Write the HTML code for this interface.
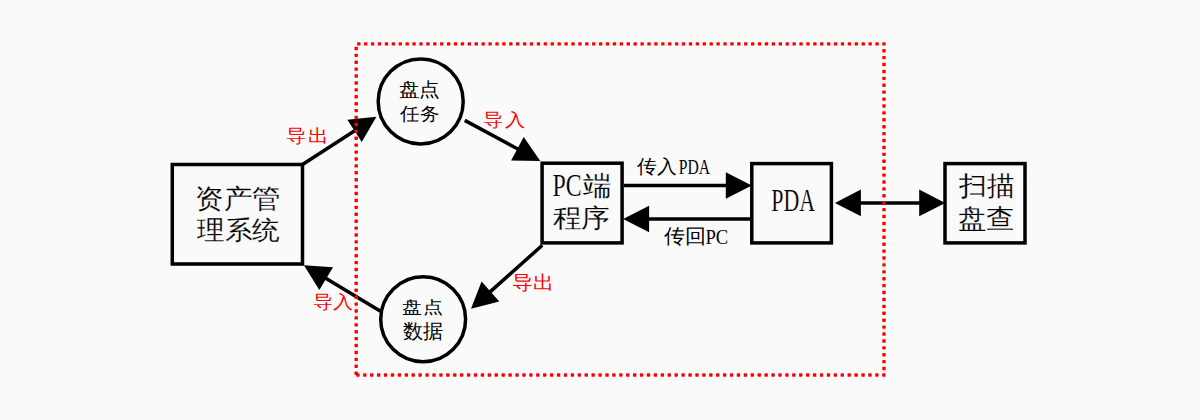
<!DOCTYPE html>
<html><head><meta charset="utf-8"><style>
html,body{margin:0;padding:0;background:#fafafa;width:1200px;height:420px;overflow:hidden}
svg{display:block}
text{font-family:"Liberation Serif",serif}
</style></head><body>
<svg width="1200" height="420" viewBox="0 0 1200 420">
<rect width="1200" height="420" fill="#fafafa"/>
<rect x="172.30" y="164.50" width="130.20" height="99.50" fill="none" stroke="#000" stroke-width="3.5"/>
<circle cx="420.70" cy="101.40" r="42.50" fill="none" stroke="#000" stroke-width="3.5"/>
<circle cx="423.15" cy="319.20" r="42.45" fill="none" stroke="#000" stroke-width="3.5"/>
<rect x="542.10" y="163.20" width="80.00" height="79.70" fill="none" stroke="#000" stroke-width="3.5"/>
<rect x="751.80" y="163.60" width="79.60" height="79.30" fill="none" stroke="#000" stroke-width="3.5"/>
<rect x="945.00" y="163.60" width="80.00" height="79.30" fill="none" stroke="#000" stroke-width="3.5"/>
<line x1="302.50" y1="164.50" x2="356.25" y2="129.73" stroke="#000" stroke-width="3.5"/><polygon points="376.40,116.70 361.79,141.99 347.35,119.65" fill="#000"/>
<line x1="464.75" y1="120.35" x2="519.18" y2="149.71" stroke="#000" stroke-width="3.5"/><polygon points="540.30,161.10 511.10,160.46 523.73,137.05" fill="#000"/>
<line x1="542.30" y1="245.30" x2="488.92" y2="292.84" stroke="#000" stroke-width="3.5"/><polygon points="471.00,308.80 481.57,281.58 499.26,301.44" fill="#000"/>
<line x1="380.50" y1="311.20" x2="324.48" y2="277.56" stroke="#000" stroke-width="3.5"/><polygon points="303.90,265.20 333.04,267.18 319.34,289.99" fill="#000"/>
<line x1="624.00" y1="185.50" x2="727.80" y2="185.50" stroke="#000" stroke-width="3.5"/><polygon points="751.80,185.50 725.80,198.80 725.80,172.20" fill="#000"/>
<line x1="750.00" y1="219.00" x2="647.10" y2="219.00" stroke="#000" stroke-width="3.5"/><polygon points="623.10,219.00 649.10,205.70 649.10,232.30" fill="#000"/>
<line x1="858.90" y1="202.9" x2="921.20" y2="202.9" stroke="#000" stroke-width="3.5"/><polygon points="834.90,202.90 860.90,189.60 860.90,216.20" fill="#000"/><polygon points="945.20,202.90 919.20,216.20 919.20,189.60" fill="#000"/>
<text transform="matrix(0.28328 0 0 0.26907 194.917 180.595)" x="0" y="100" font-size="100" fill="#000" stroke="#fafafa" stroke-width="0.6">资产管</text>
<text transform="matrix(0.27383 0 0 0.25773 196.700 213.376)" x="0" y="100" font-size="100" fill="#000" stroke="#fafafa" stroke-width="0.6">理系统</text>
<text transform="matrix(0.20262 0 0 0.18586 399.290 77.240)" x="0" y="100" font-size="100" fill="#000">盘点</text>
<text transform="matrix(0.19846 0 0 0.18298 400.100 101.323)" x="0" y="100" font-size="100" fill="#000">任务</text>
<text transform="matrix(0.20576 0 0 0.17475 402.277 295.929)" x="0" y="100" font-size="100" fill="#000">盘点</text>
<text transform="matrix(0.19949 0 0 0.19787 403.401 318.543)" x="0" y="100" font-size="100" fill="#000">数据</text>
<text transform="matrix(0.23772 0 0 0.30746 552.587 165.339)" x="0" y="100" font-size="100" fill="#000" stroke="#fafafa" stroke-width="0.6">PC</text>
<text transform="matrix(0.27979 0 0 0.26596 582.520 168.913)" x="0" y="100" font-size="100" fill="#000" stroke="#fafafa" stroke-width="0.6">端</text>
<text transform="matrix(0.28410 0 0 0.25773 552.716 201.076)" x="0" y="100" font-size="100" fill="#000" stroke="#fafafa" stroke-width="0.6">程序</text>
<text transform="matrix(0.21888 0 0 0.30606 771.243 180.094)" x="0" y="100" font-size="100" fill="#000" stroke="#fafafa" stroke-width="0.6">PDA</text>
<text transform="matrix(0.28093 0 0 0.27263 958.900 167.820)" x="0" y="100" font-size="100" fill="#000" stroke="#fafafa" stroke-width="0.6">扫描</text>
<text transform="matrix(0.28684 0 0 0.27204 957.753 200.803)" x="0" y="100" font-size="100" fill="#000" stroke="#fafafa" stroke-width="0.6">盘查</text>
<text transform="matrix(0.20950 0 0 0.18454 286.453 123.778)" x="0" y="100" font-size="100" fill="#ff0000">导出</text>
<text transform="matrix(0.20681 0 0 0.18367 483.466 107.878)" x="0" y="100" font-size="100" fill="#ff0000">导入</text>
<text transform="matrix(0.20950 0 0 0.18969 512.253 269.886)" x="0" y="100" font-size="100" fill="#ff0000">导出</text>
<text transform="matrix(0.20471 0 0 0.18265 313.176 289.795)" x="0" y="100" font-size="100" fill="#ff0000">导入</text>
<text transform="matrix(0.20255 0 0 0.19388 637.000 153.404)" x="0" y="100" font-size="100" fill="#000">传入</text>
<text transform="matrix(0.15663 0 0 0.21212 678.830 152.488)" x="0" y="100" font-size="100" fill="#000">PDA</text>
<text transform="matrix(0.20745 0 0 0.19684 664.300 223.063)" x="0" y="100" font-size="100" fill="#000">传回</text>
<text transform="matrix(0.18684 0 0 0.21343 705.439 222.230)" x="0" y="100" font-size="100" fill="#000">PC</text>
<g fill="#ff0000"><rect x="357.10" y="42.20" width="3.40" height="3.40" rx="0.70"/><rect x="364.01" y="42.20" width="3.40" height="3.40" rx="0.70"/><rect x="370.92" y="42.20" width="3.40" height="3.40" rx="0.70"/><rect x="377.83" y="42.20" width="3.40" height="3.40" rx="0.70"/><rect x="384.74" y="42.20" width="3.40" height="3.40" rx="0.70"/><rect x="391.65" y="42.20" width="3.40" height="3.40" rx="0.70"/><rect x="398.56" y="42.20" width="3.40" height="3.40" rx="0.70"/><rect x="405.47" y="42.20" width="3.40" height="3.40" rx="0.70"/><rect x="412.38" y="42.20" width="3.40" height="3.40" rx="0.70"/><rect x="419.29" y="42.20" width="3.40" height="3.40" rx="0.70"/><rect x="426.20" y="42.20" width="3.40" height="3.40" rx="0.70"/><rect x="433.11" y="42.20" width="3.40" height="3.40" rx="0.70"/><rect x="440.02" y="42.20" width="3.40" height="3.40" rx="0.70"/><rect x="446.93" y="42.20" width="3.40" height="3.40" rx="0.70"/><rect x="453.84" y="42.20" width="3.40" height="3.40" rx="0.70"/><rect x="460.75" y="42.20" width="3.40" height="3.40" rx="0.70"/><rect x="467.66" y="42.20" width="3.40" height="3.40" rx="0.70"/><rect x="474.57" y="42.20" width="3.40" height="3.40" rx="0.70"/><rect x="481.48" y="42.20" width="3.40" height="3.40" rx="0.70"/><rect x="488.39" y="42.20" width="3.40" height="3.40" rx="0.70"/><rect x="495.30" y="42.20" width="3.40" height="3.40" rx="0.70"/><rect x="502.21" y="42.20" width="3.40" height="3.40" rx="0.70"/><rect x="509.12" y="42.20" width="3.40" height="3.40" rx="0.70"/><rect x="516.03" y="42.20" width="3.40" height="3.40" rx="0.70"/><rect x="522.94" y="42.20" width="3.40" height="3.40" rx="0.70"/><rect x="529.85" y="42.20" width="3.40" height="3.40" rx="0.70"/><rect x="536.76" y="42.20" width="3.40" height="3.40" rx="0.70"/><rect x="543.67" y="42.20" width="3.40" height="3.40" rx="0.70"/><rect x="550.58" y="42.20" width="3.40" height="3.40" rx="0.70"/><rect x="557.49" y="42.20" width="3.40" height="3.40" rx="0.70"/><rect x="564.40" y="42.20" width="3.40" height="3.40" rx="0.70"/><rect x="571.31" y="42.20" width="3.40" height="3.40" rx="0.70"/><rect x="578.22" y="42.20" width="3.40" height="3.40" rx="0.70"/><rect x="585.13" y="42.20" width="3.40" height="3.40" rx="0.70"/><rect x="592.04" y="42.20" width="3.40" height="3.40" rx="0.70"/><rect x="598.95" y="42.20" width="3.40" height="3.40" rx="0.70"/><rect x="605.86" y="42.20" width="3.40" height="3.40" rx="0.70"/><rect x="612.77" y="42.20" width="3.40" height="3.40" rx="0.70"/><rect x="619.68" y="42.20" width="3.40" height="3.40" rx="0.70"/><rect x="626.59" y="42.20" width="3.40" height="3.40" rx="0.70"/><rect x="633.50" y="42.20" width="3.40" height="3.40" rx="0.70"/><rect x="640.41" y="42.20" width="3.40" height="3.40" rx="0.70"/><rect x="647.32" y="42.20" width="3.40" height="3.40" rx="0.70"/><rect x="654.23" y="42.20" width="3.40" height="3.40" rx="0.70"/><rect x="661.14" y="42.20" width="3.40" height="3.40" rx="0.70"/><rect x="668.05" y="42.20" width="3.40" height="3.40" rx="0.70"/><rect x="674.96" y="42.20" width="3.40" height="3.40" rx="0.70"/><rect x="681.87" y="42.20" width="3.40" height="3.40" rx="0.70"/><rect x="688.78" y="42.20" width="3.40" height="3.40" rx="0.70"/><rect x="695.69" y="42.20" width="3.40" height="3.40" rx="0.70"/><rect x="702.60" y="42.20" width="3.40" height="3.40" rx="0.70"/><rect x="709.51" y="42.20" width="3.40" height="3.40" rx="0.70"/><rect x="716.42" y="42.20" width="3.40" height="3.40" rx="0.70"/><rect x="723.33" y="42.20" width="3.40" height="3.40" rx="0.70"/><rect x="730.24" y="42.20" width="3.40" height="3.40" rx="0.70"/><rect x="737.15" y="42.20" width="3.40" height="3.40" rx="0.70"/><rect x="744.06" y="42.20" width="3.40" height="3.40" rx="0.70"/><rect x="750.97" y="42.20" width="3.40" height="3.40" rx="0.70"/><rect x="757.88" y="42.20" width="3.40" height="3.40" rx="0.70"/><rect x="764.79" y="42.20" width="3.40" height="3.40" rx="0.70"/><rect x="771.70" y="42.20" width="3.40" height="3.40" rx="0.70"/><rect x="778.61" y="42.20" width="3.40" height="3.40" rx="0.70"/><rect x="785.52" y="42.20" width="3.40" height="3.40" rx="0.70"/><rect x="792.43" y="42.20" width="3.40" height="3.40" rx="0.70"/><rect x="799.34" y="42.20" width="3.40" height="3.40" rx="0.70"/><rect x="806.25" y="42.20" width="3.40" height="3.40" rx="0.70"/><rect x="813.16" y="42.20" width="3.40" height="3.40" rx="0.70"/><rect x="820.07" y="42.20" width="3.40" height="3.40" rx="0.70"/><rect x="826.98" y="42.20" width="3.40" height="3.40" rx="0.70"/><rect x="833.89" y="42.20" width="3.40" height="3.40" rx="0.70"/><rect x="840.80" y="42.20" width="3.40" height="3.40" rx="0.70"/><rect x="847.71" y="42.20" width="3.40" height="3.40" rx="0.70"/><rect x="854.62" y="42.20" width="3.40" height="3.40" rx="0.70"/><rect x="861.53" y="42.20" width="3.40" height="3.40" rx="0.70"/><rect x="868.44" y="42.20" width="3.40" height="3.40" rx="0.70"/><rect x="875.35" y="42.20" width="3.40" height="3.40" rx="0.70"/><rect x="882.26" y="42.20" width="3.40" height="3.40" rx="0.70"/><rect x="882.30" y="49.01" width="3.40" height="3.40" rx="0.70"/><rect x="882.30" y="55.92" width="3.40" height="3.40" rx="0.70"/><rect x="882.30" y="62.83" width="3.40" height="3.40" rx="0.70"/><rect x="882.30" y="69.74" width="3.40" height="3.40" rx="0.70"/><rect x="882.30" y="76.65" width="3.40" height="3.40" rx="0.70"/><rect x="882.30" y="83.56" width="3.40" height="3.40" rx="0.70"/><rect x="882.30" y="90.47" width="3.40" height="3.40" rx="0.70"/><rect x="882.30" y="97.38" width="3.40" height="3.40" rx="0.70"/><rect x="882.30" y="104.29" width="3.40" height="3.40" rx="0.70"/><rect x="882.30" y="111.20" width="3.40" height="3.40" rx="0.70"/><rect x="882.30" y="118.11" width="3.40" height="3.40" rx="0.70"/><rect x="882.30" y="125.02" width="3.40" height="3.40" rx="0.70"/><rect x="882.30" y="131.93" width="3.40" height="3.40" rx="0.70"/><rect x="882.30" y="138.84" width="3.40" height="3.40" rx="0.70"/><rect x="882.30" y="145.75" width="3.40" height="3.40" rx="0.70"/><rect x="882.30" y="152.66" width="3.40" height="3.40" rx="0.70"/><rect x="882.30" y="159.57" width="3.40" height="3.40" rx="0.70"/><rect x="882.30" y="166.48" width="3.40" height="3.40" rx="0.70"/><rect x="882.30" y="173.39" width="3.40" height="3.40" rx="0.70"/><rect x="882.30" y="180.30" width="3.40" height="3.40" rx="0.70"/><rect x="882.30" y="187.21" width="3.40" height="3.40" rx="0.70"/><rect x="882.30" y="194.12" width="3.40" height="3.40" rx="0.70"/><rect x="882.30" y="201.03" width="3.40" height="3.40" rx="0.70"/><rect x="882.30" y="207.94" width="3.40" height="3.40" rx="0.70"/><rect x="882.30" y="214.85" width="3.40" height="3.40" rx="0.70"/><rect x="882.30" y="221.76" width="3.40" height="3.40" rx="0.70"/><rect x="882.30" y="228.67" width="3.40" height="3.40" rx="0.70"/><rect x="882.30" y="235.58" width="3.40" height="3.40" rx="0.70"/><rect x="882.30" y="242.49" width="3.40" height="3.40" rx="0.70"/><rect x="882.30" y="249.40" width="3.40" height="3.40" rx="0.70"/><rect x="882.30" y="256.31" width="3.40" height="3.40" rx="0.70"/><rect x="882.30" y="263.22" width="3.40" height="3.40" rx="0.70"/><rect x="882.30" y="270.13" width="3.40" height="3.40" rx="0.70"/><rect x="882.30" y="277.04" width="3.40" height="3.40" rx="0.70"/><rect x="882.30" y="283.95" width="3.40" height="3.40" rx="0.70"/><rect x="882.30" y="290.86" width="3.40" height="3.40" rx="0.70"/><rect x="882.30" y="297.77" width="3.40" height="3.40" rx="0.70"/><rect x="882.30" y="304.68" width="3.40" height="3.40" rx="0.70"/><rect x="882.30" y="311.59" width="3.40" height="3.40" rx="0.70"/><rect x="882.30" y="318.50" width="3.40" height="3.40" rx="0.70"/><rect x="882.30" y="325.41" width="3.40" height="3.40" rx="0.70"/><rect x="882.30" y="332.32" width="3.40" height="3.40" rx="0.70"/><rect x="882.30" y="339.23" width="3.40" height="3.40" rx="0.70"/><rect x="882.30" y="346.14" width="3.40" height="3.40" rx="0.70"/><rect x="882.30" y="353.05" width="3.40" height="3.40" rx="0.70"/><rect x="882.30" y="359.96" width="3.40" height="3.40" rx="0.70"/><rect x="882.30" y="366.87" width="3.40" height="3.40" rx="0.70"/><rect x="882.10" y="373.30" width="3.40" height="3.40" rx="0.70"/><rect x="875.18" y="373.30" width="3.40" height="3.40" rx="0.70"/><rect x="868.26" y="373.30" width="3.40" height="3.40" rx="0.70"/><rect x="861.34" y="373.30" width="3.40" height="3.40" rx="0.70"/><rect x="854.42" y="373.30" width="3.40" height="3.40" rx="0.70"/><rect x="847.50" y="373.30" width="3.40" height="3.40" rx="0.70"/><rect x="840.58" y="373.30" width="3.40" height="3.40" rx="0.70"/><rect x="833.66" y="373.30" width="3.40" height="3.40" rx="0.70"/><rect x="826.74" y="373.30" width="3.40" height="3.40" rx="0.70"/><rect x="819.82" y="373.30" width="3.40" height="3.40" rx="0.70"/><rect x="812.90" y="373.30" width="3.40" height="3.40" rx="0.70"/><rect x="805.98" y="373.30" width="3.40" height="3.40" rx="0.70"/><rect x="799.06" y="373.30" width="3.40" height="3.40" rx="0.70"/><rect x="792.14" y="373.30" width="3.40" height="3.40" rx="0.70"/><rect x="785.22" y="373.30" width="3.40" height="3.40" rx="0.70"/><rect x="778.30" y="373.30" width="3.40" height="3.40" rx="0.70"/><rect x="771.38" y="373.30" width="3.40" height="3.40" rx="0.70"/><rect x="764.46" y="373.30" width="3.40" height="3.40" rx="0.70"/><rect x="757.54" y="373.30" width="3.40" height="3.40" rx="0.70"/><rect x="750.62" y="373.30" width="3.40" height="3.40" rx="0.70"/><rect x="743.70" y="373.30" width="3.40" height="3.40" rx="0.70"/><rect x="736.78" y="373.30" width="3.40" height="3.40" rx="0.70"/><rect x="729.86" y="373.30" width="3.40" height="3.40" rx="0.70"/><rect x="722.94" y="373.30" width="3.40" height="3.40" rx="0.70"/><rect x="716.02" y="373.30" width="3.40" height="3.40" rx="0.70"/><rect x="709.10" y="373.30" width="3.40" height="3.40" rx="0.70"/><rect x="702.18" y="373.30" width="3.40" height="3.40" rx="0.70"/><rect x="695.26" y="373.30" width="3.40" height="3.40" rx="0.70"/><rect x="688.34" y="373.30" width="3.40" height="3.40" rx="0.70"/><rect x="681.42" y="373.30" width="3.40" height="3.40" rx="0.70"/><rect x="674.50" y="373.30" width="3.40" height="3.40" rx="0.70"/><rect x="667.58" y="373.30" width="3.40" height="3.40" rx="0.70"/><rect x="660.66" y="373.30" width="3.40" height="3.40" rx="0.70"/><rect x="653.74" y="373.30" width="3.40" height="3.40" rx="0.70"/><rect x="646.82" y="373.30" width="3.40" height="3.40" rx="0.70"/><rect x="639.90" y="373.30" width="3.40" height="3.40" rx="0.70"/><rect x="632.98" y="373.30" width="3.40" height="3.40" rx="0.70"/><rect x="626.06" y="373.30" width="3.40" height="3.40" rx="0.70"/><rect x="619.14" y="373.30" width="3.40" height="3.40" rx="0.70"/><rect x="612.22" y="373.30" width="3.40" height="3.40" rx="0.70"/><rect x="605.30" y="373.30" width="3.40" height="3.40" rx="0.70"/><rect x="598.38" y="373.30" width="3.40" height="3.40" rx="0.70"/><rect x="591.46" y="373.30" width="3.40" height="3.40" rx="0.70"/><rect x="584.54" y="373.30" width="3.40" height="3.40" rx="0.70"/><rect x="577.62" y="373.30" width="3.40" height="3.40" rx="0.70"/><rect x="570.70" y="373.30" width="3.40" height="3.40" rx="0.70"/><rect x="563.78" y="373.30" width="3.40" height="3.40" rx="0.70"/><rect x="556.86" y="373.30" width="3.40" height="3.40" rx="0.70"/><rect x="549.94" y="373.30" width="3.40" height="3.40" rx="0.70"/><rect x="543.02" y="373.30" width="3.40" height="3.40" rx="0.70"/><rect x="536.10" y="373.30" width="3.40" height="3.40" rx="0.70"/><rect x="529.18" y="373.30" width="3.40" height="3.40" rx="0.70"/><rect x="522.26" y="373.30" width="3.40" height="3.40" rx="0.70"/><rect x="515.34" y="373.30" width="3.40" height="3.40" rx="0.70"/><rect x="508.42" y="373.30" width="3.40" height="3.40" rx="0.70"/><rect x="501.50" y="373.30" width="3.40" height="3.40" rx="0.70"/><rect x="494.58" y="373.30" width="3.40" height="3.40" rx="0.70"/><rect x="487.66" y="373.30" width="3.40" height="3.40" rx="0.70"/><rect x="480.74" y="373.30" width="3.40" height="3.40" rx="0.70"/><rect x="473.82" y="373.30" width="3.40" height="3.40" rx="0.70"/><rect x="466.90" y="373.30" width="3.40" height="3.40" rx="0.70"/><rect x="459.98" y="373.30" width="3.40" height="3.40" rx="0.70"/><rect x="453.06" y="373.30" width="3.40" height="3.40" rx="0.70"/><rect x="446.14" y="373.30" width="3.40" height="3.40" rx="0.70"/><rect x="439.22" y="373.30" width="3.40" height="3.40" rx="0.70"/><rect x="432.30" y="373.30" width="3.40" height="3.40" rx="0.70"/><rect x="425.38" y="373.30" width="3.40" height="3.40" rx="0.70"/><rect x="418.46" y="373.30" width="3.40" height="3.40" rx="0.70"/><rect x="411.54" y="373.30" width="3.40" height="3.40" rx="0.70"/><rect x="404.62" y="373.30" width="3.40" height="3.40" rx="0.70"/><rect x="397.70" y="373.30" width="3.40" height="3.40" rx="0.70"/><rect x="390.78" y="373.30" width="3.40" height="3.40" rx="0.70"/><rect x="383.86" y="373.30" width="3.40" height="3.40" rx="0.70"/><rect x="376.94" y="373.30" width="3.40" height="3.40" rx="0.70"/><rect x="370.02" y="373.30" width="3.40" height="3.40" rx="0.70"/><rect x="363.10" y="373.30" width="3.40" height="3.40" rx="0.70"/><rect x="356.18" y="373.30" width="3.40" height="3.40" rx="0.70"/><rect x="354.50" y="371.50" width="3.40" height="3.40" rx="0.70"/><rect x="354.50" y="364.59" width="3.40" height="3.40" rx="0.70"/><rect x="354.50" y="357.68" width="3.40" height="3.40" rx="0.70"/><rect x="354.50" y="350.77" width="3.40" height="3.40" rx="0.70"/><rect x="354.50" y="343.86" width="3.40" height="3.40" rx="0.70"/><rect x="354.50" y="336.95" width="3.40" height="3.40" rx="0.70"/><rect x="354.50" y="330.04" width="3.40" height="3.40" rx="0.70"/><rect x="354.50" y="323.13" width="3.40" height="3.40" rx="0.70"/><rect x="354.50" y="316.22" width="3.40" height="3.40" rx="0.70"/><rect x="354.50" y="309.31" width="3.40" height="3.40" rx="0.70"/><rect x="354.50" y="302.40" width="3.40" height="3.40" rx="0.70"/><rect x="354.50" y="295.49" width="3.40" height="3.40" rx="0.70"/><rect x="354.50" y="288.58" width="3.40" height="3.40" rx="0.70"/><rect x="354.50" y="281.67" width="3.40" height="3.40" rx="0.70"/><rect x="354.50" y="274.76" width="3.40" height="3.40" rx="0.70"/><rect x="354.50" y="267.85" width="3.40" height="3.40" rx="0.70"/><rect x="354.50" y="260.94" width="3.40" height="3.40" rx="0.70"/><rect x="354.50" y="254.03" width="3.40" height="3.40" rx="0.70"/><rect x="354.50" y="247.12" width="3.40" height="3.40" rx="0.70"/><rect x="354.50" y="240.21" width="3.40" height="3.40" rx="0.70"/><rect x="354.50" y="233.30" width="3.40" height="3.40" rx="0.70"/><rect x="354.50" y="226.39" width="3.40" height="3.40" rx="0.70"/><rect x="354.50" y="219.48" width="3.40" height="3.40" rx="0.70"/><rect x="354.50" y="212.57" width="3.40" height="3.40" rx="0.70"/><rect x="354.50" y="205.66" width="3.40" height="3.40" rx="0.70"/><rect x="354.50" y="198.75" width="3.40" height="3.40" rx="0.70"/><rect x="354.50" y="191.84" width="3.40" height="3.40" rx="0.70"/><rect x="354.50" y="184.93" width="3.40" height="3.40" rx="0.70"/><rect x="354.50" y="178.02" width="3.40" height="3.40" rx="0.70"/><rect x="354.50" y="171.11" width="3.40" height="3.40" rx="0.70"/><rect x="354.50" y="164.20" width="3.40" height="3.40" rx="0.70"/><rect x="354.50" y="157.29" width="3.40" height="3.40" rx="0.70"/><rect x="354.50" y="150.38" width="3.40" height="3.40" rx="0.70"/><rect x="354.50" y="143.47" width="3.40" height="3.40" rx="0.70"/><rect x="354.50" y="136.56" width="3.40" height="3.40" rx="0.70"/><rect x="354.50" y="129.65" width="3.40" height="3.40" rx="0.70"/><rect x="354.50" y="122.74" width="3.40" height="3.40" rx="0.70"/><rect x="354.50" y="115.83" width="3.40" height="3.40" rx="0.70"/><rect x="354.50" y="108.92" width="3.40" height="3.40" rx="0.70"/><rect x="354.50" y="102.01" width="3.40" height="3.40" rx="0.70"/><rect x="354.50" y="95.10" width="3.40" height="3.40" rx="0.70"/><rect x="354.50" y="88.19" width="3.40" height="3.40" rx="0.70"/><rect x="354.50" y="81.28" width="3.40" height="3.40" rx="0.70"/><rect x="354.50" y="74.37" width="3.40" height="3.40" rx="0.70"/><rect x="354.50" y="67.46" width="3.40" height="3.40" rx="0.70"/><rect x="354.50" y="60.55" width="3.40" height="3.40" rx="0.70"/><rect x="354.50" y="53.64" width="3.40" height="3.40" rx="0.70"/><rect x="354.50" y="46.73" width="3.40" height="3.40" rx="0.70"/></g>
</svg>
</body></html>
